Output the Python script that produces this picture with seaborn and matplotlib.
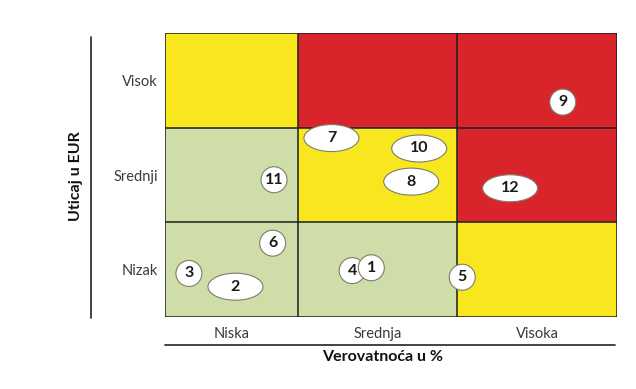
import numpy as np
import matplotlib.pyplot as plt
from matplotlib.colors import ListedColormap
from matplotlib.patches import Ellipse
from matplotlib.lines import Line2D
import seaborn as sns

# kategorije
verovatnoca = ["Niska", "Srednja", "Visoka"]
uticaj = ["Visok", "Srednji", "Nizak"]  # od vrha ka dnu

# nivo rizika po polju: 0 = nizak (zeleno), 1 = srednji (zuto), 2 = visok (crveno)
nivo_rizika = [
    [1, 2, 2],
    [0, 1, 2],
    [0, 0, 1],
]

# rizici: oznaka, verovatnoca (0-3, po kolonama), uticaj (0-3, od dna)
rizik_oznake = ["1", "2", "3", "4", "5", "6", "7", "8", "9", "10", "11", "12"]
rizik_x = [1.46, 0.53, 0.18, 1.34, 2.03, 0.81, 1.21, 1.71, 2.66, 1.76, 0.82, 2.33]
rizik_y = [0.52, 0.32, 0.46, 0.49, 0.42, 0.78, 1.89, 1.43, 2.27, 1.78, 1.45, 1.36]

sns.set_theme(style="white")
plt.rcParams['font.family'] = ['Lato', 'DejaVu Sans']

# prva kolona je nesto uza od ostalih
sirine = [5, 6, 6]
granice = np.concatenate([[0], np.cumsum(sirine)])
matrica = np.repeat(np.array(nivo_rizika), sirine, axis=1)

boje = ListedColormap(["#cfdea9", "#f8e71f", "#d9242b"])

fig = plt.figure(figsize=(6.36, 3.89), dpi=100)
ax = fig.add_axes([165/636, 1-317/389, 452/636, 284/389])
sns.heatmap(matrica, cmap=boje, vmin=-0.5, vmax=2.5, cbar=False, ax=ax,
            xticklabels=False, yticklabels=False)

for g in granice:
    ax.axvline(g, color="#1e1e1e", lw=1.1)
for r in range(4):
    ax.axhline(r, color="#1e1e1e", lw=1.1)

ax.set_xticks((granice[:-1] + granice[1:]) / 2)
ax.set_xticklabels(verovatnoca, fontsize=10.5, color="#3a3a3a")
ax.set_yticks(np.arange(3) + 0.5)
ax.set_yticklabels(uticaj, fontsize=10.5, color="#3a3a3a", rotation=0)
ax.tick_params(axis="x", length=0, pad=7)
ax.tick_params(axis="y", length=0, pad=5)
ax.set_xlabel("")
ax.set_ylabel("")

# velicine oblacica u pikselima
px_x = 452 / granice[-1]
px_y = 284 / 3
siroki = {"2", "7", "8", "10", "12"}

redosled = ["2", "3", "6", "11", "4", "1", "5", "7", "10", "8", "12", "9"]
for oz in redosled:
    i = rizik_oznake.index(oz)
    kol = min(int(rizik_x[i]), 2)
    x = granice[kol] + (rizik_x[i] - kol) * sirine[kol]
    y = 3 - rizik_y[i]
    w, h = (55, 27) if oz in siroki else (26, 26)
    ax.add_patch(Ellipse((x, y), w / px_x, h / px_y, facecolor="white",
                         edgecolor="#7d7d6a", lw=0.8, zorder=3))
    ax.text(x, y, oz, ha="center", va="center", fontsize=11.5,
            fontweight="bold", color="#1a1a1a", zorder=4)

ax.set_xlim(0, granice[-1])
ax.set_ylim(3, 0)
for s in ax.spines.values():
    s.set_visible(False)

# ose ispod i levo
fig.add_artist(Line2D([91/636, 91/636], [1-37/389, 1-318/389], color="#222222", lw=1.2))
fig.add_artist(Line2D([165/636, 615/636], [1-345/389, 1-345/389], color="#222222", lw=1.2))
fig.text(383/636, 1-357/389, "Verovatnoća u %", ha="center", va="center",
         fontsize=11.5, fontweight="bold", color="#111111")
fig.text(76/636, 1-176/389, "Uticaj u EUR", ha="center", va="center",
         rotation=90, fontsize=11.5, fontweight="bold", color="#111111")

fig.savefig("out.png", dpi=100, facecolor="white")
